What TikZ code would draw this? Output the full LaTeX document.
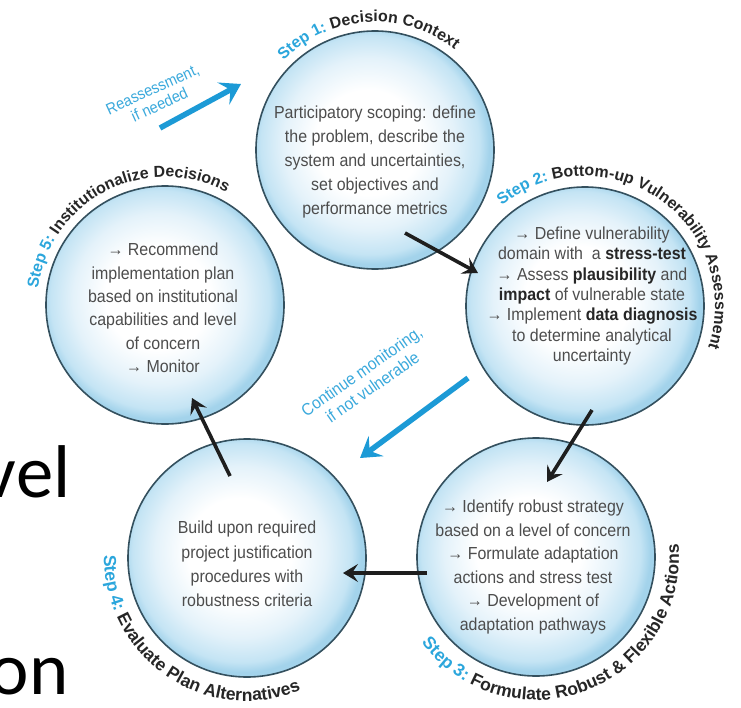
\documentclass[tikz,border=0pt]{standalone}
\usepackage{fontspec}
\setmainfont{Liberation Sans}
\newfontfamily\bodyfont[FakeStretch=0.915]{Liberation Sans}
\newfontfamily\slidefont{Carlito}
\usetikzlibrary{arrows.meta,decorations.text}

\definecolor{bubbleedge}{HTML}{A3D3EB}
\definecolor{bubbleedgeb}{HTML}{C4E4F4}
\definecolor{bubblemid}{HTML}{E4F2FA}
\definecolor{bubblerim}{HTML}{34505E}
\definecolor{bodygray}{HTML}{4D4D4D}
\definecolor{bodydark}{HTML}{262626}
\definecolor{labeldark}{HTML}{262626}
\definecolor{stepblue}{HTML}{2BA6DC}
\definecolor{notblue}{HTML}{3AA9DC}
\definecolor{arrowblue}{HTML}{1C9AD6}
\definecolor{arrowdark}{HTML}{1E1E1E}

% soft bubble: white core fading to light blue at the rim
\pgfdeclareradialshading{bubble}{\pgfpoint{-2bp}{2bp}}{%
  color(0bp)=(white); color(11bp)=(white); color(18bp)=(bubblemid);
  color(23bp)=(bubbleedgeb); color(25bp)=(bubbleedge); color(50bp)=(bubbleedge)}

\newcommand\strongword[1]{{\bfseries\color{bodydark}#1}}
\newcommand\labelfont{\fontsize{16}{16}\selectfont\bfseries}
\newcommand\labelfontwide{\fontsize{17.6}{17.6}\selectfont\bfseries}

\tikzset{
  bubblenode/.style={circle, draw=bubblerim, line width=1.6bp, shading=bubble,
    minimum size=238bp, inner sep=0pt},
  bodytext/.style={font=\bodyfont\fontsize{17.5}{24}\selectfont, text=bodygray,
    align=center, inner sep=0pt},
  annot/.style={font=\bodyfont\fontsize{16}{17}\selectfont, text=notblue,
    align=center, inner sep=0pt},
  flow/.style={draw=arrowdark, line width=3.6bp,
    -{Stealth[length=15bp,width=18bp,inset=6bp]}},
  loopback/.style={draw=arrowblue, line width=5.5bp,
    -{Stealth[length=20bp,width=25bp,inset=8bp]}},
  slidetext/.style={font=\slidefont\fontsize{75}{80}\selectfont, text=black,
    inner sep=0pt, outer sep=0pt, anchor=base west},
  steplabel/.style={decorate, decoration={text along path, text align=center,
    text={#1}}}
}

\begin{document}
\begin{tikzpicture}[x=1bp, y=1bp]
\useasboundingbox (0,-708) rectangle (741,0);
\fill[white] (0,-708) rectangle (741,0);

% fragments of the slide text behind the figure
\node[slidetext] (lvl) at (-17,-497) {vel};
\node[slidetext] (onw) at (-10,-694) {on};

% the five step bubbles
\node[bubblenode] (c1) at (375,-150) {};
\node[bubblenode] (c2) at (585,-306) {};
\node[bubblenode] (c3) at (536,-557) {};
\node[bubblenode] (c4) at (247,-558) {};
\node[bubblenode] (c5) at (165,-305) {};

% bubble contents
\node[bodytext] (t1) at (375,-162) {Participatory scoping: define\\the problem, describe the\\system and uncertainties,\\set objectives and\\performance metrics};
\node[bodytext, font=\bodyfont\fontsize{17.5}{20.5}\selectfont] (t2) at (592,-296)
  {→ Define vulnerability\\domain with\ \ a \strongword{stress-test}\\→ Assess \strongword{plausibility} and\\\strongword{impact} of vulnerable state\\→ Implement \strongword{data diagnosis}\\to determine analytical\\uncertainty};
\node[bodytext, font=\bodyfont\fontsize{17.5}{23.5}\selectfont] (t3) at (533,-567)
  {→ Identify robust strategy\\based on a level of concern\\→ Formulate adaptation\\actions and stress test\\→ Development of\\adaptation pathways};
\node[bodytext, font=\bodyfont\fontsize{17.5}{24.5}\selectfont] (t4) at (247,-564)
  {Build upon required\\project justification\\procedures with\\robustness criteria};
\node[bodytext, font=\bodyfont\fontsize{17.5}{23.5}\selectfont] (t5) at (163,-308)
  {→ Recommend\\implementation plan\\based on institutional\\capabilities and level\\of concern\\→ Monitor};

% curved step titles
\path[steplabel={|\labelfont\color{stepblue}|Step 1: |\labelfont\color{labeldark}|Decision Context}]
  (c1.center) ++(183.5:128) arc[start angle=183.5, end angle=3.5, radius=128];
\path[steplabel={|\labelfont\color{stepblue}|Step 2: |\labelfont\color{labeldark}|Bottom-up Vulnerability Assessment}]
  (c2.center) ++(145.5:130) arc[start angle=145.5, end angle=-34.5, radius=130];
\path[steplabel={|\labelfontwide\color{stepblue}|Step 3: |\labelfontwide\color{labeldark}|Formulate Robust {\&} Flexible Actions}]
  (c3.center) ++(201:143) arc[start angle=201, end angle=381, radius=143];
\path[steplabel={|\labelfontwide\color{stepblue}|Step 4: |\labelfontwide\color{labeldark}|Evaluate Plan Alternatives}]
  (c4.center) ++(145.5:143) arc[start angle=145.5, end angle=325.5, radius=143];
\path[steplabel={|\labelfont\color{stepblue}|Step 5: |\labelfont\color{labeldark}|Institutionalize Decisions}]
  (c5.center) ++(207:128) arc[start angle=207, end angle=27, radius=128];

% arrow end points
\coordinate (a12s) at (405,-233);
\coordinate (a12e) at (478,-273);
\coordinate (a23s) at (592,-410);
\coordinate (a23e) at (547,-482);
\coordinate (a34s) at (427,-573);
\coordinate (a34e) at (343,-573);
\coordinate (a45s) at (230,-476);
\coordinate (a45e) at (192,-398);
\coordinate (b51s) at (160,-128);
\coordinate (b51e) at (241,-84);
\coordinate (b24s) at (468,-378);
\coordinate (b24e) at (360,-458);

\draw[flow] (a12s) -- (a12e);
\draw[flow] (a23s) -- (a23e);
\draw[flow] (a34s) -- (a34e);
\draw[flow] (a45s) -- (a45e);
\draw[loopback] (b51s) -- (b51e);
\draw[loopback] (b24s) -- (b24e);

% loop annotations
\node[annot, rotate=24.5] (reass) at (156,-97) {Reassessment,\\if needed};
\node[annot, rotate=35, font=\bodyfont\fontsize{17}{19}\selectfont] (contmon) at (367,-379)
  {Continue monitoring,\\if not vulnerable};
\end{tikzpicture}
\end{document}
